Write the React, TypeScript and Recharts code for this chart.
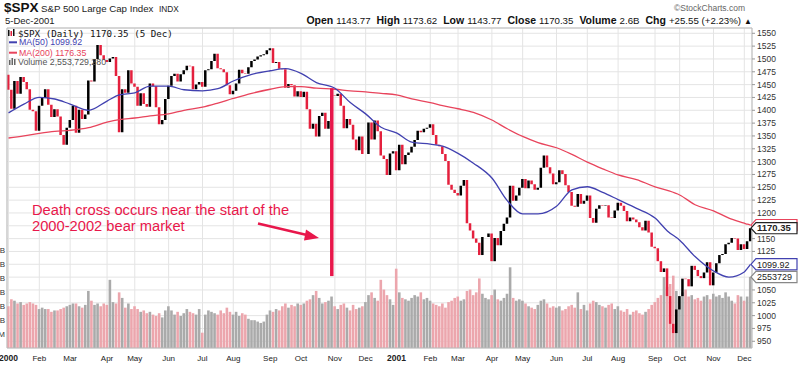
import {
  Bar,
  CartesianGrid,
  Cell,
  ComposedChart,
  Line,
  ReferenceDot,
  ReferenceLine,
  XAxis,
  YAxis,
} from "recharts";

// month labels, one per month from Jan 2000 to Dec 2001
const monthLabels = [
  "2000", "Feb", "Mar", "Apr", "May", "Jun", "Jul", "Aug", "Sep", "Oct", "Nov", "Dec",
  "2001", "Feb", "Mar", "Apr", "May", "Jun", "Jul", "Aug", "Sep", "Oct", "Nov", "Dec",
];

const close1999 = 1469;

// closes sampled about every second session, one row per month
const closes2000 = [
  [1440, 1403, 1457, 1432, 1465, 1455, 1441, 1401, 1398, 1360],
  [1409, 1424, 1441, 1411, 1387, 1402, 1388, 1352, 1333, 1366],
  [1381, 1409, 1356, 1401, 1383, 1392, 1458, 1456, 1500, 1527, 1507, 1498],
  [1494, 1501, 1504, 1467, 1357, 1441, 1434, 1478, 1452],
  [1446, 1409, 1433, 1412, 1407, 1452, 1447, 1406, 1373, 1381, 1422],
  [1448, 1467, 1471, 1456, 1470, 1478, 1487, 1486, 1441, 1450, 1455],
  [1446, 1478, 1480, 1496, 1510, 1482, 1480, 1474, 1449, 1431],
  [1438, 1452, 1479, 1472, 1471, 1484, 1496, 1499, 1505, 1507, 1509, 1517],
  [1521, 1492, 1494, 1481, 1480, 1444, 1451, 1449, 1427, 1437],
  [1426, 1436, 1402, 1364, 1374, 1349, 1389, 1395, 1364, 1379, 1429],
  [1428, 1432, 1409, 1365, 1383, 1372, 1343, 1322, 1349, 1315],
  [1315, 1376, 1343, 1380, 1359, 1312, 1305, 1274, 1316, 1320],
];

const closes2001 = [
  [1283, 1333, 1295, 1313, 1318, 1329, 1342, 1360, 1357, 1364, 1366],
  [1373, 1352, 1333, 1330, 1315, 1301, 1255, 1245, 1239],
  [1234, 1253, 1264, 1180, 1166, 1150, 1142, 1118, 1153, 1153, 1160],
  [1106, 1151, 1137, 1165, 1179, 1191, 1253, 1224, 1234, 1249],
  [1266, 1248, 1263, 1256, 1245, 1249, 1288, 1312, 1289, 1277, 1256],
  [1260, 1283, 1276, 1254, 1241, 1214, 1212, 1237, 1218, 1224],
  [1234, 1190, 1181, 1208, 1215, 1214, 1215, 1191, 1190, 1205],
  [1220, 1214, 1204, 1184, 1191, 1187, 1182, 1172, 1166, 1185, 1162, 1134],
  [1131, 1106, 1085, 1092, 1038, 984, 966, 1012],
  [1038, 1072, 1071, 1057, 1097, 1089, 1077, 1073, 1084, 1104, 1059],
  [1084, 1102, 1118, 1120, 1139, 1142, 1151, 1150, 1128, 1139],
  [1130, 1145, 1170.35],
];

// volume in billions of shares
const volumes2000 = [
  [1.5, 1.75, 1.7, 1.6, 1.65, 1.55, 1.6, 1.65, 1.6, 1.55],
  [1.4, 1.45, 1.4, 1.4, 1.3, 1.35, 1.35, 1.4, 1.45, 1.5],
  [1.55, 1.6, 1.6, 1.5, 1.45, 1.55, 2.05, 1.7, 1.55, 1.6, 1.5, 1.6],
  [1.55, 2.45, 1.65, 1.6, 2.0, 1.8, 1.45, 1.6, 1.4],
  [1.5, 1.4, 1.3, 1.35, 1.25, 1.3, 1.2, 1.15, 1.25, 1.1, 1.35],
  [1.5, 1.35, 1.2, 1.3, 1.15, 1.25, 1.4, 1.3, 1.25, 1.2, 1.4],
  [0.55, 1.2, 1.35, 1.3, 1.25, 1.2, 1.35, 1.25, 1.45, 1.3],
  [1.2, 1.3, 1.15, 1.25, 1.2, 1.05, 1.0, 1.0, 0.95, 0.9, 0.95, 1.2],
  [1.35, 1.3, 1.4, 1.35, 1.5, 1.6, 1.45, 1.55, 1.5, 1.6],
  [1.55, 1.6, 1.7, 1.75, 1.9, 2.05, 1.8, 1.6, 1.65, 1.7, 1.85],
  [1.5, 1.4, 1.55, 1.6, 1.45, 1.35, 1.55, 1.4, 1.45, 1.5],
  [1.65, 1.9, 2.0, 1.8, 1.7, 2.45, 2.1, 1.9, 1.75, 1.55],
];

const volumes2001 = [
  [2.85, 2.0, 1.8, 1.75, 1.7, 1.8, 1.9, 1.85, 2.0, 1.75, 1.8],
  [1.7, 1.6, 1.55, 1.5, 1.6, 1.45, 1.65, 1.7, 1.8],
  [1.85, 1.7, 1.75, 2.05, 2.1, 1.9, 2.0, 2.5, 1.95, 1.8, 1.75],
  [1.9, 2.1, 1.75, 1.7, 1.8, 1.95, 2.9, 1.8, 1.7, 1.75],
  [1.7, 1.6, 1.5, 1.45, 1.4, 1.55, 1.7, 1.75, 1.6, 1.45, 1.5],
  [1.45, 1.5, 1.35, 1.4, 1.5, 1.55, 1.45, 2.0, 1.4, 1.55],
  [1.35, 1.6, 1.7, 1.65, 1.55, 1.5, 1.45, 1.55, 1.6, 1.4],
  [1.5, 1.35, 1.3, 1.4, 1.2, 1.3, 1.35, 1.25, 1.2, 1.3, 1.4, 1.55],
  [1.65, 1.8, 1.9, 2.55, 2.2, 2.3, 2.6, 2.05],
  [1.85, 2.0, 2.1, 1.85, 1.9, 1.75, 1.8, 1.7, 1.85, 1.9, 1.75],
  [1.95, 1.85, 1.9, 1.8, 2.0, 1.85, 1.7, 1.6, 1.9, 1.85],
  [1.7, 1.85, 2.5537],
];

// moving averages read at the start and middle of each month
const ma50Samples = [
  [1395, 1412], [1425, 1422], [1412, 1400], [1418, 1430], [1434, 1447], [1447, 1440],
  [1438, 1442], [1457, 1470], [1477, 1481], [1472, 1454], [1443, 1415], [1393, 1367],
  [1356, 1338], [1334, 1330], [1316, 1297], [1268, 1224], [1198, 1198], [1213, 1245],
  [1251, 1240], [1226, 1209], [1190, 1165], [1147, 1115], [1087, 1075], [1085, 1092],
];
const ma200Samples = [
  [1346, 1350], [1355, 1359], [1361, 1366], [1377, 1382], [1385, 1389], [1393, 1400],
  [1406, 1414], [1423, 1433], [1441, 1446], [1446, 1443], [1441, 1438], [1436, 1433],
  [1430, 1422], [1415, 1409], [1403, 1396], [1381, 1364], [1349, 1337], [1327, 1314],
  [1299, 1286], [1274, 1265], [1251, 1244], [1235, 1216], [1204, 1190], [1180, 1178],
];

const lastClose = 1170.35;
const lastMa50 = 1099.92;
const lastMa200 = 1176.35;
const lastVolume = 2.5537;

const priceTicks = [
  950, 975, 1000, 1025, 1050, 1075, 1100, 1125, 1150, 1175, 1200, 1225, 1250,
  1275, 1300, 1325, 1350, 1375, 1400, 1425, 1450, 1475, 1500, 1525, 1550,
];
// these labels sit under the value tags on the right edge
const coveredPriceLabels = [1075, 1100, 1175];
const volumeTicks = [0.5, 1, 1.5, 2, 2.5, 3, 3.5];

const RED = "#e4203d";
const VOL_RED = "#eca6ad";
const VOL_GRAY = "#aaaaaa";
const BLUE = "#4141b0";
const MA_RED = "#e8445c";
const NOTE = "#e8174b";
const FONT = "Arial, 'Liberation Sans', sans-serif";

const closesByMonth = [...closes2000, ...closes2001];
const volumesByMonth = [...volumes2000, ...volumes2001];

const rows: any[] = [];
const monthStarts: number[] = [];
const labelAt: Record<number, string> = {};
let prev = close1999;
closesByMonth.forEach((month, m) => {
  monthStarts.push(rows.length);
  labelAt[rows.length] = monthLabels[m];
  const mid = Math.floor(month.length / 2);
  month.forEach((c, j) => {
    rows.push({
      i: rows.length,
      range: [Math.min(prev, c), Math.max(prev, c)],
      down: c < prev,
      vol: volumesByMonth[m][j],
      ma50: j === 0 ? ma50Samples[m][0] : j === mid ? ma50Samples[m][1] : null,
      ma200: j === 0 ? ma200Samples[m][0] : j === mid ? ma200Samples[m][1] : null,
    });
    prev = c;
  });
});
const lastIndex = rows.length - 1;
rows[lastIndex].ma50 = lastMa50;
rows[lastIndex].ma200 = lastMa200;

function MonthTick({ x, y, payload }: any) {
  const label = labelAt[payload.value];
  const year = label.length === 4;
  return (
    <text
      x={x}
      y={y + 12.5}
      textAnchor="middle"
      fontSize={year ? 8.5 : 8}
      fontWeight={year ? 700 : 400}
      fill="#222"
      fontFamily={FONT}
    >
      {label}
    </text>
  );
}

function PriceTick({ x, y, payload }: any) {
  if (coveredPriceLabels.includes(payload.value)) return <g />;
  return (
    <text x={x} y={y} dy="0.355em" fontSize={8.5} fill="#333" fontFamily={FONT}>
      {payload.value}
    </text>
  );
}

function Tag({ cx, cy, text, color, bold, size }: any) {
  const x0 = cx + 0.5;
  const x1 = 797;
  const h = 5.6;
  return (
    <g>
      <path
        d={`M${x0},${cy} L${x0 + 5},${cy - h} L${x1},${cy - h} L${x1},${cy + h} L${x0 + 5},${cy + h} Z`}
        fill="#fff"
        stroke={color}
        strokeWidth={1.2}
      />
      {text ? (
        <text
          x={x0 + 6}
          y={cy + 3.2}
          fontSize={size}
          fontWeight={bold ? 700 : 400}
          fill="#222"
          fontFamily={FONT}
        >
          {text}
        </text>
      ) : null}
    </g>
  );
}

export default function App() {
  return (
    <div
      style={{
        position: "absolute",
        left: 0,
        top: 0,
        width: 800,
        height: 366,
        background: "#fff",
        overflow: "hidden",
        fontFamily: FONT,
      }}
    >
      <ComposedChart
        width={800}
        height={366}
        data={rows}
        margin={{ top: 28, right: 0, bottom: 0, left: 0 }}
      >
        <CartesianGrid xAxisId="p" yAxisId="price" stroke="#e4e4e4" />
        <XAxis
          xAxisId="p"
          dataKey="i"
          type="category"
          ticks={monthStarts}
          interval={0}
          tick={<MonthTick />}
          tickLine={false}
          tickSize={0}
          tickMargin={0}
          axisLine={{ stroke: "#bbb" }}
          height={18}
        />
        <XAxis xAxisId="v" dataKey="i" type="category" hide />
        <YAxis
          yAxisId="price"
          orientation="right"
          domain={[936.9, 1560.3]}
          ticks={priceTicks}
          interval={0}
          allowDataOverflow
          width={48}
          tickSize={3}
          tickMargin={2}
          tickLine={{ stroke: "#999" }}
          axisLine={{ stroke: "#bbb" }}
          tick={<PriceTick />}
        />
        <YAxis
          yAxisId="vol"
          orientation="left"
          domain={[0, 11.5]}
          ticks={volumeTicks}
          interval={0}
          allowDataOverflow
          width={7}
          tickLine={false}
          tickSize={0}
          tickMargin={2}
          axisLine={{ stroke: "#bbb" }}
          tick={{ fontSize: 8, fill: "#333", fontFamily: FONT }}
          tickFormatter={(v: number) => (v < 1 ? `${v * 1000}M` : `${v.toFixed(1)}B`)}
        />
        <ReferenceLine yAxisId="price" xAxisId="p" y={1560.3} stroke="#bbb" />

        <Bar xAxisId="v" yAxisId="vol" dataKey="vol" barSize={2.6} isAnimationActive={false}>
          {rows.map((r) => (
            <Cell key={r.i} fill={r.down ? VOL_RED : VOL_GRAY} />
          ))}
        </Bar>
        <Line
          xAxisId="p"
          yAxisId="price"
          dataKey="ma200"
          type="monotone"
          connectNulls
          dot={false}
          stroke={MA_RED}
          strokeWidth={1.3}
          isAnimationActive={false}
        />
        <Line
          xAxisId="p"
          yAxisId="price"
          dataKey="ma50"
          type="monotone"
          connectNulls
          dot={false}
          stroke={BLUE}
          strokeWidth={1.3}
          isAnimationActive={false}
        />
        <Bar xAxisId="p" yAxisId="price" dataKey="range" barSize={2.5} isAnimationActive={false}>
          {rows.map((r) => (
            <Cell key={r.i} fill={r.down ? RED : "#000"} />
          ))}
        </Bar>

        <ReferenceLine
          xAxisId="p"
          yAxisId="price"
          segment={[
            { x: 105, y: 1443 },
            { x: 105, y: 1077 },
          ]}
          stroke={NOTE}
          strokeWidth={3.5}
        />
        <ReferenceDot
          xAxisId="p"
          yAxisId="price"
          x={lastIndex}
          y={lastMa200}
          shape={(p: any) => <Tag cx={p.cx} cy={p.cy} color={MA_RED} />}
        />
        <ReferenceDot
          xAxisId="p"
          yAxisId="price"
          x={lastIndex}
          y={lastClose}
          shape={(p: any) => <Tag cx={p.cx} cy={p.cy} text="1170.35" color="#222" bold size={9.5} />}
        />
        <ReferenceDot
          xAxisId="p"
          yAxisId="price"
          x={lastIndex}
          y={lastMa50}
          shape={(p: any) => <Tag cx={p.cx} cy={p.cy} text="1099.92" color={BLUE} size={9} />}
        />
        <ReferenceDot
          xAxisId="v"
          yAxisId="vol"
          x={lastIndex}
          y={lastVolume}
          shape={(p: any) => <Tag cx={p.cx} cy={p.cy} text="2553729" color="#888" size={9} />}
        />
      </ComposedChart>

      <svg
        width={800}
        height={366}
        style={{ position: "absolute", left: 0, top: 0, pointerEvents: "none" }}
      >
        <text x={4} y={12} fontSize={13.5} fontWeight={700} fill="#111" fontFamily={FONT}>
          $SPX
        </text>
        <text x={41} y={11.7} fontSize={9.7} fill="#222" fontFamily={FONT}>
          S&amp;P 500 Large Cap Index
        </text>
        <text x={159} y={11.5} fontSize={8.3} fill="#222" fontFamily={FONT}>
          INDX
        </text>
        <text x={5} y={23.5} fontSize={9.5} fill="#222" fontFamily={FONT}>
          5-Dec-2001
        </text>
        <text x={745} y={10.5} fontSize={8.5} fill="#666" fontFamily={FONT} textAnchor="end">
          ©StockCharts.com
        </text>
        <text x={752} y={23.5} fill="#111" fontFamily={FONT} textAnchor="end">
          <tspan fontSize={10.5} fontWeight={700}>Open</tspan>
          <tspan fontSize={9.7} dx={3}>1143.77</tspan>
          <tspan fontSize={10.5} fontWeight={700} dx={6}>High</tspan>
          <tspan fontSize={9.7} dx={3}>1173.62</tspan>
          <tspan fontSize={10.5} fontWeight={700} dx={6}>Low</tspan>
          <tspan fontSize={9.7} dx={3}>1143.77</tspan>
          <tspan fontSize={10.5} fontWeight={700} dx={6}>Close</tspan>
          <tspan fontSize={9.7} dx={3}>1170.35</tspan>
          <tspan fontSize={10.5} fontWeight={700} dx={6}>Volume</tspan>
          <tspan fontSize={9.7} dx={3}>2.6B</tspan>
          <tspan fontSize={10.5} fontWeight={700} dx={6}>Chg</tspan>
          <tspan fontSize={9.7} dx={3}>+25.55 (+2.23%)</tspan>
          <tspan fontSize={8} dx={3}>▲</tspan>
        </text>

        {/* legend */}
        <rect x={8} y={30} width={1.5} height={6} fill="#111" />
        <rect x={10.5} y={31} width={1.5} height={5} fill={RED} />
        <rect x={13} y={29} width={1.5} height={7} fill="#111" />
        <text x={18} y={36.7} fontSize={9.2} fill="#111" fontFamily="'DejaVu Sans Mono', monospace">
          $SPX (Daily) 1170.35 (5 Dec)
        </text>
        <line x1={9} y1={42.3} x2={17} y2={42.3} stroke={BLUE} strokeWidth={2} />
        <text x={19} y={45.4} fontSize={8.8} fill={BLUE} fontFamily={FONT}>
          MA(50) 1099.92
        </text>
        <line x1={9} y1={52.7} x2={17} y2={52.7} stroke={MA_RED} strokeWidth={2} />
        <text x={19} y={55.8} fontSize={8.8} fill={MA_RED} fontFamily={FONT}>
          MA(200) 1176.35
        </text>
        <rect x={9} y={60} width={1.5} height={5} fill="#666" />
        <rect x={11.5} y={58} width={1.5} height={7} fill="#666" />
        <rect x={14} y={59} width={1.5} height={6} fill="#666" />
        <text x={18} y={64.8} fontSize={8.8} fill="#555" fontFamily={FONT}>
          Volume 2,553,729,280
        </text>

        {/* annotation */}
        <text x={32} y={214.7} fontSize={14.7} fill={NOTE} fontFamily={FONT}>
          Death cross occurs near the start of the
        </text>
        <text x={32} y={231.3} fontSize={14.7} fill={NOTE} fontFamily={FONT}>
          2000-2002 bear market
        </text>
        <line x1={258} y1={223.5} x2={308} y2={235.3} stroke={NOTE} strokeWidth={2.5} />
        <polygon points="319,238 306,229.5 304,240.5" fill={NOTE} />
      </svg>
    </div>
  );
}
